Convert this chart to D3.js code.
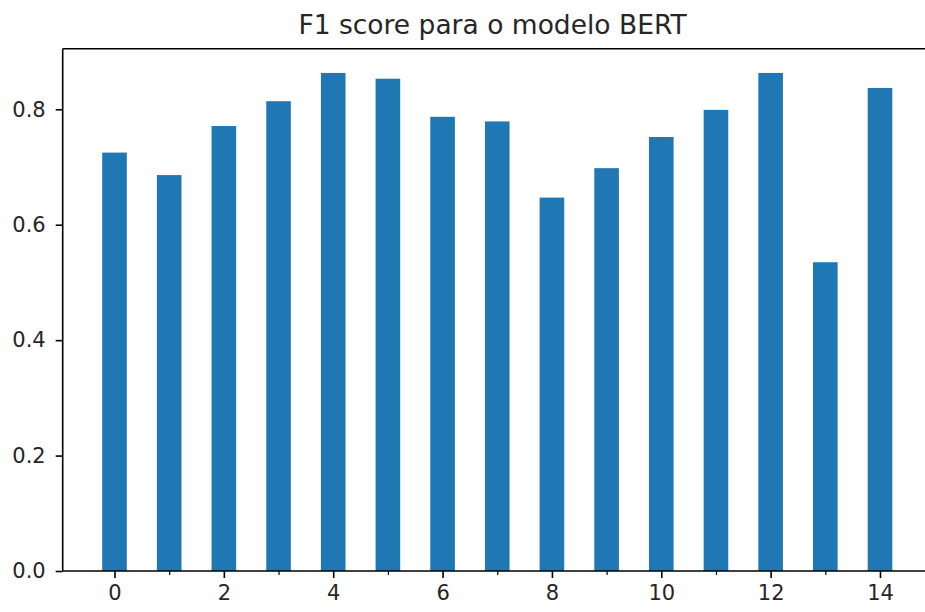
<!DOCTYPE html>
<html>
<head>
<meta charset="utf-8">
<script src="https://cdn.jsdelivr.net/npm/d3@7"></script>
<style>
  html, body { margin: 0; padding: 0; background: #fff; }
  svg { display: block; }
  text { font-family: "DejaVu Sans", sans-serif; fill: #262626; }
</style>
</head>
<body>
<svg id="chart" width="925" height="612"></svg>
<script>
const title = "F1 score para o modelo BERT";
const categories = [0, 1, 2, 3, 4, 5, 6, 7, 8, 9, 10, 11, 12, 13, 14];
const f1Scores = [0.725, 0.686, 0.771, 0.814, 0.863, 0.853, 0.787, 0.779, 0.647, 0.698, 0.752, 0.799, 0.863, 0.535, 0.837];
const xTickLabels = [0, 2, 4, 6, 8, 10, 12, 14];
const xMinorTicks = [1, 3, 5, 7, 9, 11, 13];
const yTickLabels = [0.0, 0.2, 0.4, 0.6, 0.8];

const barWidth = 0.45;
const svg = d3.select("#chart");
const mLeft = 62.7, mRight = 931.8, mTop = 48.7, mBottom = 571;

const x = d3.scaleLinear().domain([-0.9475, 14.9475]).range([mLeft, mRight]);
const y = d3.scaleLinear().domain([0, 0.905]).range([mBottom, mTop]);

// bars
svg.append("g").selectAll("rect").data(categories).enter().append("rect")
  .attr("x", (d) => x(d - barWidth / 2))
  .attr("width", (d) => x(d + barWidth / 2) - x(d - barWidth / 2))
  .attr("y", (d, i) => y(f1Scores[i]))
  .attr("height", (d, i) => y(0) - y(f1Scores[i]))
  .attr("fill", "#1f77b4");

// x axis
const xAxis = d3.axisBottom(x).tickValues(xTickLabels).tickSize(7).tickPadding(7).tickFormat(d3.format("d"));
const gx = svg.append("g").attr("transform", `translate(0,${mBottom})`).call(xAxis);
gx.select(".domain").remove();
gx.selectAll(".tick line").attr("stroke", "#000").attr("stroke-width", 1.6);
gx.selectAll(".tick text").attr("font-size", 21).attr("font-family", "DejaVu Sans").attr("fill", "#262626");

const xMinor = d3.axisBottom(x).tickValues(xMinorTicks).tickSize(4).tickFormat("");
const gxm = svg.append("g").attr("transform", `translate(0,${mBottom})`).call(xMinor);
gxm.select(".domain").remove();
gxm.selectAll(".tick line").attr("stroke", "#000").attr("stroke-width", 1.2);

// y axis
const yAxis = d3.axisLeft(y).tickValues(yTickLabels).tickSize(7).tickPadding(10).tickFormat(d3.format(".1f"));
const gy = svg.append("g").attr("transform", `translate(${mLeft},0)`).call(yAxis);
gy.select(".domain").remove();
gy.selectAll(".tick line").attr("stroke", "#000").attr("stroke-width", 1.6);
gy.selectAll(".tick text").attr("font-size", 21).attr("font-family", "DejaVu Sans").attr("fill", "#262626");

// spines
const sp = svg.append("g").attr("fill", "none").attr("stroke", "#000").attr("stroke-width", 1.6);
sp.append("line").attr("x1", mLeft).attr("x2", mLeft).attr("y1", mTop).attr("y2", mBottom);
sp.append("line").attr("x1", mLeft).attr("x2", mRight).attr("y1", mBottom).attr("y2", mBottom);
sp.append("line").attr("x1", mLeft).attr("x2", mRight).attr("y1", mTop).attr("y2", mTop);
sp.append("line").attr("x1", mRight).attr("x2", mRight).attr("y1", mTop).attr("y2", mBottom);

// title
svg.append("text")
  .attr("x", 492.5)
  .attr("y", 33.5)
  .attr("text-anchor", "middle")
  .attr("font-size", 26.5)
  .text(title);
</script>
</body>
</html>
